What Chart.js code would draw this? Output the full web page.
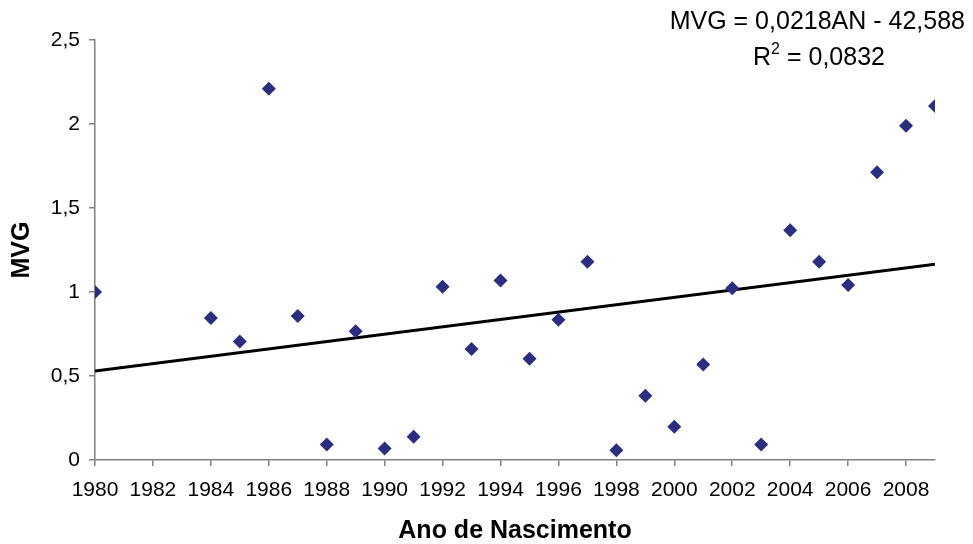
<!DOCTYPE html>
<html>
<head>
<meta charset="utf-8">
<script src="https://cdn.jsdelivr.net/npm/chart.js"></script>
<style>
  html, body { margin: 0; padding: 0; background: #fff; }
  #wrap { width: 973px; height: 544px; }
</style>
</head>
<body>
<div id="wrap"><canvas id="c"></canvas></div>
<script>
// birth year (Ano de Nascimento) and MVG
const years = [1980, 1984, 1985, 1986, 1987, 1988, 1989, 1990, 1991, 1992, 1993, 1994, 1995, 1996,
               1997, 1998, 1999, 2000, 2001, 2002, 2003, 2004, 2005, 2006, 2007, 2008, 2009];
const mvg = [1.0, 0.845, 0.705, 2.21, 0.857, 0.093, 0.767, 0.068, 0.138, 1.031, 0.661, 1.068, 0.603, 0.835,
             1.18, 0.058, 0.382, 0.198, 0.568, 1.023, 0.093, 1.368, 1.18, 1.041, 1.713, 1.99, 2.107];
// linear trend line ends
const trendYears = [1980, 2009];
const trendVals = [0.53, 1.165];
const eqLine1 = 'MVG = 0,0218AN - 42,588';
const eqLine2 = ['R', '2', ' = 0,0832'];

const FONT = '"Liberation Sans", Arial, sans-serif';
const axisGray = '#808080';

const points = years.map((y, i) => ({ x: y, y: mvg[i] }));
const trend = trendYears.map((y, i) => ({ x: y, y: trendVals[i] }));

const equationPlugin = {
  id: 'equation',
  afterDraw(chart) {
    const ctx = chart.ctx;
    ctx.save();
    ctx.fillStyle = '#000';
    ctx.font = '25px ' + FONT;
    ctx.textBaseline = 'middle';
    ctx.textAlign = 'right';
    ctx.fillText(eqLine1, 965, 22);
    // R² line, centered
    ctx.textAlign = 'left';
    const wR = ctx.measureText(eqLine2[0]).width;
    ctx.font = '16px ' + FONT;
    const w2 = ctx.measureText(eqLine2[1]).width;
    ctx.font = '25px ' + FONT;
    const wRest = ctx.measureText(eqLine2[2]).width;
    let x = 819 - (wR + w2 + wRest) / 2;
    ctx.fillText(eqLine2[0], x, 58);
    x += wR;
    ctx.font = '16px ' + FONT;
    ctx.fillText(eqLine2[1], x, 50);
    x += w2;
    ctx.font = '25px ' + FONT;
    ctx.fillText(eqLine2[2], x, 58);
    ctx.restore();
  }
};

new Chart(document.getElementById('c'), {
  type: 'scatter',
  data: {
    datasets: [
      {
        label: 'MVG',
        data: points,
        pointStyle: 'rectRot',
        pointRadius: 7,
        pointHoverRadius: 7,
        backgroundColor: '#2B2E7E',
        borderColor: '#2B2E7E',
        borderWidth: 0
      },
      {
        label: 'Linear',
        data: trend,
        showLine: true,
        borderColor: '#000',
        borderWidth: 3,
        pointRadius: 0,
        fill: false
      }
    ]
  },
  options: {
    responsive: true,
    maintainAspectRatio: false,
    animation: false,
    events: [],
    layout: { padding: { left: 0, right: 38, top: 40, bottom: 0 } },
    plugins: { legend: { display: false }, tooltip: { enabled: false } },
    scales: {
      x: {
        type: 'linear',
        min: 1980,
        max: 2009,
        afterBuildTicks(scale) {
          const t = [];
          for (let v = 1980; v <= 2008; v += 2) t.push({ value: v });
          scale.ticks = t;
        },
        afterFit(scale) { scale.height = 84; },
        grid: { drawOnChartArea: false, drawTicks: true, tickLength: 6, color: axisGray, lineWidth: 1.5 },
        border: { color: axisGray, width: 1.5 },
        ticks: { color: '#000', font: { family: FONT, size: 21 }, padding: 12, maxRotation: 0,
                 callback: v => String(v) },
        title: { display: true, text: 'Ano de Nascimento', color: '#000',
                 font: { family: FONT, size: 25, weight: 'bold', lineHeight: 1 }, padding: { top: 0, bottom: 0 } }
      },
      y: {
        min: 0,
        max: 2.5,
        afterFit(scale) { scale.width = 95; },
        grid: { drawOnChartArea: false, drawTicks: true, tickLength: 6, color: axisGray, lineWidth: 1.5 },
        border: { color: axisGray, width: 1.5 },
        ticks: { stepSize: 0.5, color: '#000', font: { family: FONT, size: 21 }, padding: 9,
                 callback: v => String(v).replace('.', ',') },
        title: { display: true, text: 'MVG', color: '#000',
                 font: { family: FONT, size: 25, weight: 'bold', lineHeight: 1 }, padding: { top: 10, bottom: 0 } }
      }
    }
  },
  plugins: [equationPlugin]
});
</script>
</body>
</html>
